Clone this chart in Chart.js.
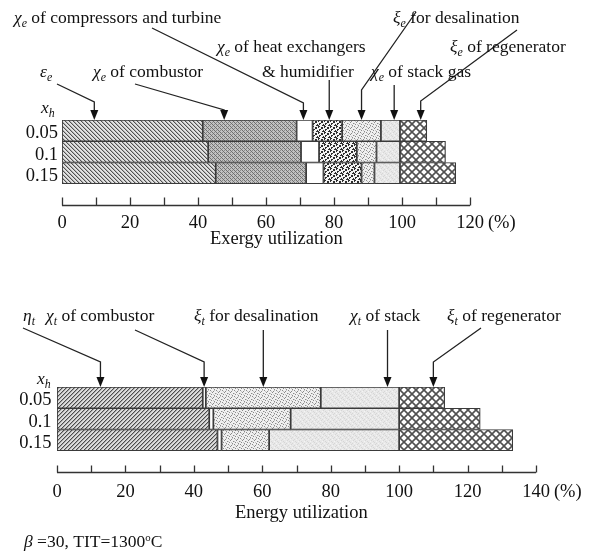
<!DOCTYPE html>
<html>
<head>
<meta charset="utf-8">
<script src="https://cdn.jsdelivr.net/npm/chart.js@4.4.1/dist/chart.umd.min.js"></script>
<style>
  body { margin: 0; background: #fff; }
  #wrap { position: relative; width: 594px; height: 555px; overflow: hidden; }
  canvas { position: absolute; left: 0; }
  .lb { position: absolute; font: 17.5px/20px 'Liberation Serif', 'Times New Roman', serif; color: #111; white-space: nowrap; }
  .ax { font-size: 18.5px; }
  .lb sub { font-size: 68%; vertical-align: -0.3em; line-height: 0; }
  .lb sup { font-size: 62%; vertical-align: 0.55em; line-height: 0; }
</style>
</head>
<body>
<div id="wrap">
  <canvas id="topChart" width="594" height="262" style="top:0"></canvas>
  <canvas id="bottomChart" width="594" height="262" style="top:270px"></canvas>

  <!-- top chart labels -->
  <span class="lb" style="left:14px;top:7px"><i>χ</i><sub><i>e</i></sub> of compressors and turbine</span>
  <span class="lb" style="left:393px;top:7px"><i>ξ</i><sub><i>e</i></sub> for desalination</span>
  <span class="lb" style="left:217px;top:36px"><i>χ</i><sub><i>e</i></sub> of heat exchangers</span>
  <span class="lb" style="left:450px;top:36px"><i>ξ</i><sub><i>e</i></sub> of regenerator</span>
  <span class="lb" style="left:40px;top:61px"><i>ε</i><sub><i>e</i></sub></span>
  <span class="lb" style="left:93px;top:61px"><i>χ</i><sub><i>e</i></sub> of combustor</span>
  <span class="lb" style="left:262px;top:61px">&amp; humidifier</span>
  <span class="lb" style="left:371px;top:61px"><i>χ</i><sub><i>e</i></sub> of stack gas</span>
  <span class="lb" style="left:41px;top:97px"><i>x</i><sub><i>h</i></sub></span>
  <span class="lb ax" style="left:210px;top:228px">Exergy utilization</span>

  <!-- bottom chart labels -->
  <span class="lb" style="left:23px;top:305px"><i>η</i><sub><i>t</i></sub></span>
  <span class="lb" style="left:46px;top:305px"><i>χ</i><sub><i>t</i></sub> of combustor</span>
  <span class="lb" style="left:194px;top:305px"><i>ξ</i><sub><i>t</i></sub> for desalination</span>
  <span class="lb" style="left:350px;top:305px"><i>χ</i><sub><i>t</i></sub> of stack</span>
  <span class="lb" style="left:447px;top:305px"><i>ξ</i><sub><i>t</i></sub> of regenerator</span>
  <span class="lb" style="left:37px;top:368px"><i>x</i><sub><i>h</i></sub></span>
  <span class="lb ax" style="left:235px;top:502px">Energy utilization</span>
  <span class="lb" style="left:24px;top:531px"><i>β</i> =30, TIT=1300<sup>o</sup>C</span>
</div>

<script>
// humidification ratio rows
const categories = ['0.05', '0.1', '0.15'];

// exergy utilization (%), top chart
const exergyEff      = [41.4, 43.0, 45.2];
const exCombustor    = [27.6, 27.3, 26.6];
const exCompTurbine  = [4.7, 5.3, 5.1];
const exHeatExch     = [8.7, 11.1, 11.2];
const exDesal        = [11.4, 5.8, 3.8];
const exStackGas     = [5.6, 6.9, 7.5];
const exRegenerator  = [7.9, 13.4, 16.4];

// energy utilization (%), bottom chart
const thermalEff     = [42.6, 44.5, 46.9];
const enCombustor    = [0.9, 1.2, 1.2];
const enDesal        = [33.6, 22.6, 13.9];
const enStack        = [22.9, 31.7, 38.0];
const enRegenerator  = [13.3, 23.7, 33.2];

// where the label arrows point (x value)
const topArrowAt    = [9.5, 47.7, 71.0, 78.6, 88.1, 97.7, 105.5];
const bottomArrowAt = [12.7, 43.0, 60.3, 96.6, 110.0];

const topTicks = [0, 20, 40, 60, 80, 100, 120];
const bottomTicks = [0, 20, 40, 60, 80, 100, 120, 140];

const FONT = "'Liberation Serif', 'Times New Roman', serif";

function makePattern(w, h, draw) {
    const c = document.createElement('canvas');
    c.width = w; c.height = h;
    const g = c.getContext('2d');
    draw(g, w, h);
    return g.createPattern(c, 'repeat');
}
function px(g, list, color) {
    g.fillStyle = color;
    list.forEach(p => g.fillRect(p[0], p[1], 1, 1));
}

const pat = {
    hatchBack: makePattern(4, 4, (g) => {
        g.fillStyle = '#e2e2e2'; g.fillRect(0, 0, 4, 4);
        px(g, [[0,0],[1,1],[2,2],[3,3]], '#505050');
        px(g, [[1,0],[2,1],[3,2],[0,3]], '#b4b4b4');
    }),
    hatchFwd: makePattern(4, 4, (g) => {
        g.fillStyle = '#dcdcdc'; g.fillRect(0, 0, 4, 4);
        px(g, [[3,0],[2,1],[1,2],[0,3]], '#4c4c4c');
        px(g, [[0,0],[3,1],[2,2],[1,3]], '#a8a8a8');
    }),
    checker: makePattern(4, 4, (g) => {
        g.fillStyle = '#c2c2c2'; g.fillRect(0, 0, 4, 4);
        px(g, [[0,0],[2,2],[1,1],[3,3]], '#6e6e6e');
        px(g, [[2,0],[0,2]], '#8c8c8c');
    }),
    blotch: makePattern(6, 6, (g) => {
        g.fillStyle = '#f4f4f4'; g.fillRect(0, 0, 6, 6);
        px(g, [[0,0],[1,0],[0,1],[3,1],[4,1],[4,2],[3,2],[1,3],[2,3],[1,4],[5,4],[5,5],[4,5],[0,5]], '#2e2e2e');
    }),
    stipple: makePattern(6, 6, (g) => {
        g.fillStyle = '#f0f0f0'; g.fillRect(0, 0, 6, 6);
        px(g, [[0,0],[3,1],[5,3],[1,4],[4,5],[2,2]], '#8a8a8a');
        px(g, [[4,0],[1,1],[0,3],[3,4]], '#c4c4c4');
    }),
    stack: makePattern(6, 6, (g) => {
        g.fillStyle = '#e8e8e8'; g.fillRect(0, 0, 6, 6);
        px(g, [[0,1],[3,0],[5,2],[2,4],[4,5],[1,3]], '#d6d6d6');
        px(g, [[2,1],[4,3],[0,5]], '#f4f4f4');
    }),
    diamond: makePattern(8, 8, (g) => {
        g.fillStyle = '#ffffff'; g.fillRect(0, 0, 8, 8);
        g.strokeStyle = '#505050'; g.lineWidth = 1.6;
        g.beginPath();
        g.moveTo(-1, -1); g.lineTo(9, 9);
        g.moveTo(9, -1); g.lineTo(-1, 9);
        g.stroke();
    }),
    white: '#ffffff'
};

const annotPlugin = {
    id: 'annot',
    afterDatasetsDraw(chart, args, opts) {
        const ctx = chart.ctx, xs = chart.scales.x, area = chart.chartArea;
        const y0 = Math.round(area.bottom) + 0.5;
        ctx.save();
        ctx.strokeStyle = '#333';
        ctx.lineWidth = 1.3;
        ctx.beginPath();
        ctx.moveTo(xs.getPixelForValue(xs.min), y0);
        ctx.lineTo(xs.getPixelForValue(xs.max), y0);
        for (let v = xs.min; v <= xs.max; v += opts.minorStep) {
            const p = Math.round(xs.getPixelForValue(v)) + 0.5;
            ctx.moveTo(p, y0);
            ctx.lineTo(p, y0 - opts.tickLen);
        }
        ctx.stroke();

        // unit after last tick label
        ctx.font = '18.5px ' + FONT;
        ctx.fillStyle = '#111';
        ctx.textBaseline = 'middle';
        ctx.textAlign = 'left';
        const wl = ctx.measureText(String(xs.max)).width;
        ctx.fillText('(%)', xs.getPixelForValue(xs.max) + wl / 2 + 4, area.bottom + opts.labelPad + 11.1);

        // leader lines with arrow heads
        ctx.strokeStyle = '#222';
        ctx.fillStyle = '#111';
        ctx.lineWidth = 1.3;
        opts.arrows.forEach((a, i) => {
            const ax = xs.getPixelForValue(opts.at[i]);
            const top = area.top;
            ctx.beginPath();
            if (a.from) {
                ctx.moveTo(a.from[0], a.from[1]);
                ctx.lineTo(ax, a.elbow);
            } else {
                ctx.moveTo(ax, a.elbow);
            }
            ctx.lineTo(ax, top - 8);
            ctx.stroke();
            ctx.beginPath();
            ctx.moveTo(ax, top);
            ctx.lineTo(ax - 4, top - 10);
            ctx.lineTo(ax + 4, top - 10);
            ctx.closePath();
            ctx.fill();
        });
        ctx.restore();
    }
};

function buildChart(id, series, opt) {
    const datasets = series.map(s => ({
        label: s.label,
        data: s.data,
        backgroundColor: s.bg,
        borderColor: '#3a3a3a',
        borderWidth: 1.2,
        borderSkipped: false,
        barPercentage: 1,
        categoryPercentage: 1
    }));
    return new Chart(document.getElementById(id), {
        type: 'bar',
        data: { labels: [...categories, ''], datasets },
        plugins: [annotPlugin],
        options: {
            indexAxis: 'y',
            responsive: false,
            animation: false,
            devicePixelRatio: 1,
            layout: { padding: { top: opt.top, right: opt.right, bottom: 0, left: 0 } },
            plugins: {
                legend: { display: false },
                tooltip: { enabled: false },
                annot: { arrows: opt.arrows, at: opt.arrowAt, minorStep: 10, tickLen: opt.tickLen, labelPad: opt.xPad }
            },
            scales: {
                x: {
                    stacked: true,
                    min: 0,
                    max: opt.max,
                    grid: { display: false, drawTicks: false },
                    border: { display: false },
                    afterFit: s => { s.height = opt.xHeight; },
                    afterBuildTicks: s => { s.ticks = opt.ticks.map(v => ({ value: v })); },
                    ticks: { autoSkip: false, maxRotation: 0, padding: opt.xPad, color: '#111', font: { family: FONT, size: 18.5 } }
                },
                y: {
                    stacked: true,
                    grid: { display: false, drawTicks: false },
                    border: { display: false },
                    afterFit: s => { s.width = opt.left; },
                    ticks: { autoSkip: false, padding: opt.yPad, labelOffset: 3, color: '#111', font: { family: FONT, size: 18.5 } }
                }
            }
        }
    });
}

buildChart('topChart', [
    { label: 'εe', data: exergyEff, bg: pat.hatchBack },
    { label: 'χe of combustor', data: exCombustor, bg: pat.checker },
    { label: 'χe of compressors and turbine', data: exCompTurbine, bg: pat.white },
    { label: 'χe of heat exchangers & humidifier', data: exHeatExch, bg: pat.blotch },
    { label: 'ξe for desalination', data: exDesal, bg: pat.stipple },
    { label: 'χe of stack gas', data: exStackGas, bg: pat.stack },
    { label: 'ξe of regenerator', data: exRegenerator, bg: pat.diamond }
], {
    top: 120, right: 124, left: 62, xHeight: 57, max: 120, ticks: topTicks,
    xPad: 7, yPad: 4, tickLen: 8, arrowAt: topArrowAt,
    arrows: [
        { from: [57, 84], elbow: 102 },
        { from: [135, 84], elbow: 110 },
        { from: [152, 28], elbow: 103 },
        { elbow: 80 },
        { from: [416, 12], elbow: 90 },
        { elbow: 85 },
        { from: [517, 30], elbow: 101 }
    ]
});

buildChart('bottomChart', [
    { label: 'ηt', data: thermalEff, bg: pat.hatchFwd },
    { label: 'χt of combustor', data: enCombustor, bg: pat.white },
    { label: 'ξt for desalination', data: enDesal, bg: pat.stipple },
    { label: 'χt of stack', data: enStack, bg: pat.stack },
    { label: 'ξt of regenerator', data: enRegenerator, bg: pat.diamond }
], {
    top: 117, right: 58, left: 57, xHeight: 60, max: 140, ticks: bottomTicks,
    xPad: 8.6, yPad: 5.5, tickLen: 7, arrowAt: bottomArrowAt,
    arrows: [
        { from: [23, 58], elbow: 92 },
        { from: [135, 60], elbow: 92 },
        { elbow: 60 },
        { elbow: 60 },
        { from: [481, 58], elbow: 92 }
    ]
});
</script>
</body>
</html>
